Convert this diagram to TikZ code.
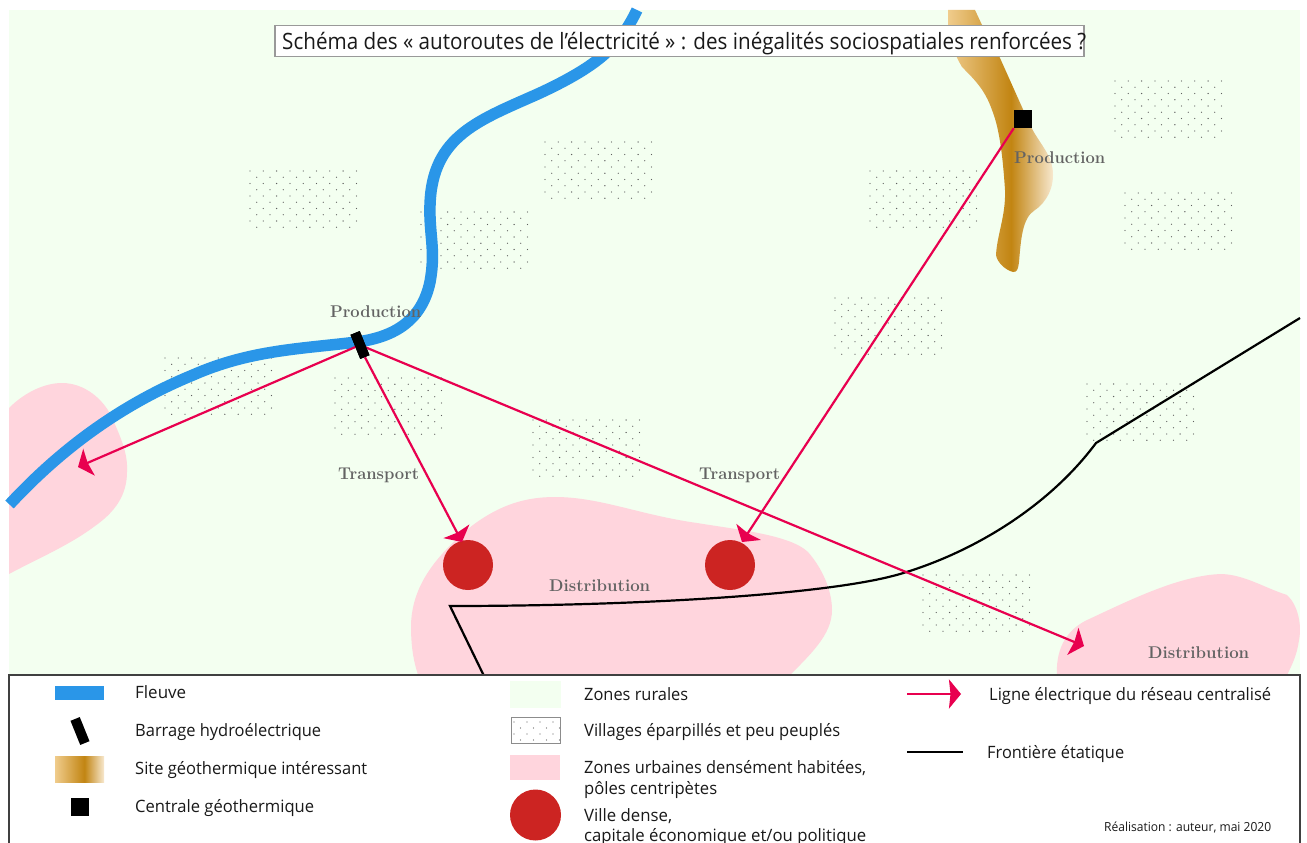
\documentclass[tikz,border=0pt]{standalone}
\usepackage{fontspec}
\usepackage{graphicx}
\setsansfont{Open Sans}
\usetikzlibrary{arrows.meta}
\definecolor{rural}{HTML}{F3FFF0}
\definecolor{urban}{HTML}{FFD5DD}
\definecolor{river}{HTML}{2A96E8}
\definecolor{elecline}{HTML}{E8004F}
\definecolor{cityred}{HTML}{CC2422}
\definecolor{labelgray}{HTML}{636363}
\definecolor{dotgray}{HTML}{606060}
\pgfdeclarehorizontalshading{geoshade}{100bp}{rgb(0bp)=(.94,.80,.55);rgb(25bp)=(.94,.80,.55);rgb(55bp)=(.76,.52,.07);rgb(75bp)=(.97,.91,.81);rgb(100bp)=(.97,.91,.81)}
\newcommand{\fitw}[2]{\resizebox{#1pt}{\height}{#2}}
\newcommand{\dotpatch}[2]{%
  \foreach \r in {0,...,9}{%
    \pgfmathsetmacro{\off}{mod(\r,2)*6.65}%
    \foreach \c in {0,...,8}{%
      \pgfmathsetmacro{\xx}{#1+\c*13.3+\off}%
      \pgfmathsetmacro{\yy}{#2+\r*6.25}%
      \ifdim\xx pt<\dimexpr#1pt+108pt\relax
      \fill[dotgray] (\xx,\yy) circle[radius=.65];
      \fi
    }%
  }%
}
\tikzset{
  mapzone/.style={fill=urban,draw=none},
  elec/.style={draw=elecline,line width=2.2pt,-{Stealth[length=12pt,width=29pt,inset=1.5pt]}},
  gray label/.style={anchor=base west,inner sep=0pt,text=labelgray,font=\fontsize{17}{18}\selectfont\bfseries},
  legend text/.style={anchor=base west,inner sep=0pt,text=black!90,font=\sffamily\fontsize{17}{18}\selectfont},
  dambox/.style={fill=black,draw=none,minimum width=10pt,minimum height=26pt,inner sep=0pt,rotate=22},
  plantbox/.style={fill=black,draw=none,minimum size=18pt,inner sep=0pt},
  citydot/.style={circle,fill=cityred,draw=none,minimum size=50pt,inner sep=0pt},
  borderline/.style={draw=black,line width=2.2pt,line join=miter}
}
\begin{document}
\begin{tikzpicture}[x=1pt,y=-1pt]
\useasboundingbox (0,0) rectangle (1307,843);
\fill[white] (0,0) rectangle (1307,843);
% map background
\fill[rural] (9,10) rectangle (1300,676);
% urban zones
\fill[mapzone] (9,408) .. controls (25,392) and (45,383) .. (62,383) .. controls (85,383) and (105,400) .. (113,420) .. controls (122,440) and (128,455) .. (127,472) .. controls (127,495) and (115,512) .. (95,526) .. controls (70,545) and (35,560) .. (9,574) -- cycle;
\fill[mapzone] (411,625) .. controls (412,590) and (430,560) .. (473,525) .. controls (500,505) and (525,497) .. (555,497) .. controls (600,497) and (640,515) .. (697,523) .. controls (740,530) and (790,535) .. (808,552) .. controls (822,568) and (832,590) .. (832,610) .. controls (832,635) and (810,655) .. (785,680) -- (420,680) .. controls (412,660) and (411,640) .. (411,625) -- cycle;
\fill[mapzone] (1057,680) .. controls (1055,650) and (1065,632) .. (1085,621) .. controls (1130,600) and (1180,575) .. (1222,574) .. controls (1245,575) and (1265,588) .. (1287,595) .. controls (1298,605) and (1302,625) .. (1299,640) .. controls (1297,655) and (1292,665) .. (1287,675) -- (1287,680) -- cycle;
% villages
\dotpatch{250}{171}
\dotpatch{545}{142}
\dotpatch{421}{212}
\dotpatch{165}{358}
\dotpatch{335}{378}
\dotpatch{533}{420}
\dotpatch{870}{171}
\dotpatch{835}{298}
\dotpatch{1115}{81}
\dotpatch{1125}{193}
\dotpatch{1087}{384}
\dotpatch{923}{575}
% river
\draw[river,line width=11.5pt,line cap=butt] (637,10) .. controls (620,45) and (600,65) .. (540,93) .. controls (480,120) and (432,135) .. (430,205) .. controls (429,235) and (436,250) .. (430,282) .. controls (422,320) and (395,337) .. (357,342) .. controls (300,349) and (250,350) .. (193,375) .. controls (120,405) and (60,450) .. (9.5,504.5);
% geothermal site
\shade[shading=geoshade] (975,10) -- (982,25) -- (1000,58) -- (1030,125) .. controls (1040,145) and (1053,155) .. (1053,175) .. controls (1053,195) and (1040,207) .. (1035,210) .. controls (1022,218) and (1021,240) .. (1019,262) .. controls (1018,270) and (1017,272) .. (1013,272) .. controls (1005,270) and (997,262) .. (996,255) .. controls (997,235) and (1006,215) .. (1005,190) .. controls (1003,160) and (1000,130) .. (992,110) .. controls (985,90) and (975,80) .. (962,67) .. controls (955,55) and (948,40) .. (948,10) -- cycle;
% state border
\coordinate (bA) at (1300,318);
\coordinate (bB) at (1096,443);
\coordinate (bC) at (450,606);
\coordinate (bD) at (484,676);
\draw[borderline] (bA) -- (bB) .. controls (1050,505) and (975,552) .. (900,574) .. controls (830,594.5) and (640,606) .. (bC) -- (bD);
% nodes
\node[citydot] (cityA) at (468,565) {};
\node[citydot] (cityB) at (730,565) {};
\coordinate (tipL) at (78,467);
\coordinate (tipA) at (462,542);
\coordinate (tipB) at (742,542);
\coordinate (tipR) at (1084,646);
\node[plantbox] (plant) at (1023,119) {};
\node[dambox] (dam) at (360,345) {};
% power lines
\draw[elec] (dam.center) -- (tipL);
\draw[elec] (dam.south) -- (tipA);
\draw[elec] (dam.center) -- (tipR);
\draw[elec] (plant.south west) -- (tipB);
\node[dambox] (damtop) at (360,345) {};
% labels
\node[gray label] (lProdA) at (330,317) {\fitw{91}{Production}};
\node[gray label] (lProdB) at (1014,163) {\fitw{91}{Production}};
\node[gray label] (lTransA) at (338,479) {\fitw{81}{Transport}};
\node[gray label] (lTransB) at (699,479) {\fitw{81}{Transport}};
\node[gray label] (lDistA) at (549,591) {\fitw{101}{Distribution}};
\node[gray label] (lDistB) at (1148,658) {\fitw{101}{Distribution}};
% title
\node[draw=black!40,line width=1.2pt,fill=white,minimum width=809pt,minimum height=31pt,inner sep=0pt] (titlebox) at (679.5,41) {};
\node[anchor=base west,inner sep=0pt,text=black!90,font=\sffamily\fontsize{22.5}{24}\selectfont] (title) at (282,50) {\fitw{804}{Schéma des « autoroutes de l’électricité » : des inégalités sociospatiales renforcées ?}};
% legend
\draw[fill=white,draw=black!75,line width=1.5pt] (9,675) rectangle (1300,860);
\fill[river] (55,686) rectangle (104,700);
\node[legend text] (tFleuve) at (135,698) {\fitw{51}{Fleuve}};
\node[dambox] (legDam) at (80,731) {};
\node[legend text] (tBarrage) at (135,736) {\fitw{186}{Barrage hydroélectrique}};
\shade[shading=geoshade] (55,756) rectangle (104,782);
\node[legend text] (tSite) at (135,774) {\fitw{232}{Site géothermique intéressant}};
\node[plantbox] (legPlant) at (80,807) {};
\node[legend text] (tCentrale) at (135,812) {\fitw{179}{Centrale géothermique}};
\fill[rural] (510,681) rectangle (561,708);
\node[legend text] (tRural) at (584,700) {\fitw{104}{Zones rurales}};
\draw[draw=black!45,line width=.8pt] (511,717) rectangle (560,743);
\foreach \r/\o in {0/0,1/6.5,2/0,3/6.5}{\foreach \c in {0,...,3}{\fill[dotgray] (514+\o+\c*13,722+\r*6) circle[radius=.55];}}
\node[legend text] (tVillages) at (584,736) {\fitw{256}{Villages éparpillés et peu peuplés}};
\fill[urban] (510,755) rectangle (560,780);
\node[legend text] (tUrbA) at (584,773) {\fitw{282}{Zones urbaines densément habitées,}};
\node[legend text] (tUrbB) at (584,794) {\fitw{133}{pôles centripètes}};
\node[citydot,minimum size=51pt] (legCity) at (535.5,815) {};
\node[legend text] (tVilleA) at (584,821) {\fitw{88}{Ville dense,}};
\node[legend text] (tVilleB) at (584,841) {\fitw{282}{capitale économique et/ou politique}};
\coordinate (legArrowA) at (907,694);
\coordinate (legArrowB) at (961,694);
\draw[elec] (legArrowA) -- (legArrowB);
\node[legend text] (tLigne) at (989,700) {\fitw{282}{Ligne électrique du réseau centralisé}};
\coordinate (legBorderA) at (907,752);
\coordinate (legBorderB) at (963,752);
\draw[borderline] (legBorderA) -- (legBorderB);
\node[legend text] (tFront) at (987,758) {\fitw{137}{Frontière étatique}};
\node[legend text,font=\sffamily\fontsize{12.5}{14}\selectfont] (tReal) at (1104,831) {\fitw{167}{Réalisation : auteur, mai 2020}};
\end{tikzpicture}
\end{document}
